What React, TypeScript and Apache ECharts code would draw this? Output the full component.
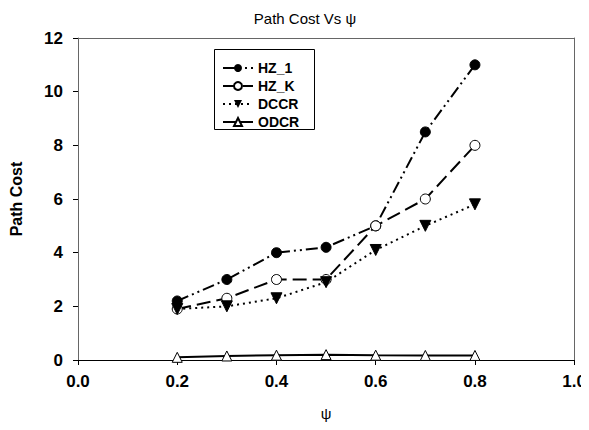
import React, { useEffect, useRef } from "react";
import * as echarts from "echarts";

const xValues = [0.2, 0.3, 0.4, 0.5, 0.6, 0.7, 0.8];
const hz1 = [2.2, 3.0, 4.0, 4.2, 5.0, 8.5, 11.0];
const hzK = [1.9, 2.3, 3.0, 3.0, 5.0, 6.0, 8.0];
const dccr = [1.9, 2.0, 2.3, 2.9, 4.1, 5.0, 5.8];
const odcr = [0.1, 0.15, 0.18, 0.2, 0.18, 0.17, 0.17];
const seriesNames = ["HZ_1", "HZ_K", "DCCR", "ODCR"];

const pairs = (ys: number[]) => xValues.map((x, i) => [x, ys[i]]);

export default function App() {
  const ref = useRef<HTMLDivElement>(null);
  useEffect(() => {
    if (!ref.current) return;
    const chart = echarts.init(ref.current, null, { renderer: "svg" });
    const font = "Liberation Sans, Arial, sans-serif";
    const frame = "#666";
    chart.setOption({
      animation: false,
      backgroundColor: "#fff",
      textStyle: { fontFamily: font },
      title: {
        text: "Path Cost Vs ψ",
        left: 300,
        top: 6,
        textAlign: "center",
        textStyle: { fontSize: 15, fontWeight: "normal", color: "#000", fontFamily: font },
      },
      graphic: [
        {
          type: "rect",
          shape: { x: 214.5, y: 49.5, width: 100, height: 80 },
          style: { fill: "#fff", stroke: "#000", lineWidth: 1 },
          z: 90,
        },
      ],
      legend: {
        data: seriesNames,
        orient: "vertical",
        left: 222,
        top: 61,
        padding: 0,
        itemGap: 4,
        itemWidth: 30,
        itemHeight: 10,
        z: 100,
        textStyle: { fontSize: 14, lineHeight: 13, fontWeight: "bold", color: "#000", fontFamily: font },
      },
      grid: {
        left: 75,
        right: 14,
        top: 38,
        bottom: 70,
      },
      xAxis: [
        {
          type: "value",
          min: 0,
          max: 1,
          interval: 0.2,
          name: "ψ",
          nameLocation: "middle",
          nameGap: 46,
          nameTextStyle: { fontSize: 15, color: "#000", fontFamily: font },
          axisLine: { onZero: false, lineStyle: { color: "#000", width: 1 } },
          axisTick: { show: true, inside: false, length: 5, lineStyle: { color: "#000" } },
          axisLabel: {
            fontSize: 17,
            fontWeight: "bold",
            color: "#000",
            margin: 13,
            formatter: (v: number) => v.toFixed(1),
          },
          splitLine: { show: false },
        },
        {
          type: "value",
          position: "top",
          min: 0,
          max: 1,
          interval: 0.2,
          axisLine: { show: true, onZero: false, lineStyle: { color: frame, width: 1 } },
          axisTick: { show: false },
          axisLabel: { show: false },
          splitLine: { show: false },
        },
      ],
      yAxis: [
        {
          type: "value",
          min: 0,
          max: 12,
          interval: 2,
          name: "Path Cost",
          nameLocation: "middle",
          nameGap: 54,
          nameTextStyle: { fontSize: 16, fontWeight: "bold", color: "#000", fontFamily: font },
          axisLine: { show: true, onZero: false, lineStyle: { color: frame, width: 1 } },
          axisTick: { show: true, inside: false, length: 5, lineStyle: { color: "#000" } },
          axisLabel: { fontSize: 17, fontWeight: "bold", color: "#000", margin: 15 },
          splitLine: { show: false },
        },
        {
          type: "value",
          position: "right",
          min: 0,
          max: 12,
          interval: 2,
          axisLine: { show: true, onZero: false, lineStyle: { color: frame, width: 1 } },
          axisTick: { show: false },
          axisLabel: { show: false },
          splitLine: { show: false },
        },
      ],
      series: [
        {
          name: "HZ_1",
          type: "line",
          data: pairs(hz1),
          symbol: "circle",
          symbolSize: 10,
          itemStyle: { color: "#000", borderColor: "#000" },
          lineStyle: { color: "#000", width: 2, type: [12, 4, 2, 4, 2, 4] },
        },
        {
          name: "HZ_K",
          type: "line",
          data: pairs(hzK),
          symbol: "circle",
          symbolSize: 10,
          itemStyle: { color: "#fff", borderColor: "#000", borderWidth: 1 },
          lineStyle: { color: "#000", width: 2, type: [14, 6] },
        },
        {
          name: "DCCR",
          type: "line",
          data: pairs(dccr),
          symbol: "triangle",
          symbolRotate: 180,
          symbolSize: 11,
          itemStyle: { color: "#000", borderColor: "#000" },
          lineStyle: { color: "#000", width: 2, type: [2, 4] },
        },
        {
          name: "ODCR",
          type: "line",
          data: pairs(odcr),
          symbol: "triangle",
          symbolSize: 10,
          itemStyle: { color: "#fff", borderColor: "#000", borderWidth: 1 },
          lineStyle: { color: "#000", width: 2, type: "solid" },
        },
      ],
    });
    return () => chart.dispose();
  }, []);
  return <div ref={ref} style={{ width: 589, height: 430, margin: -8 }} />;
}
